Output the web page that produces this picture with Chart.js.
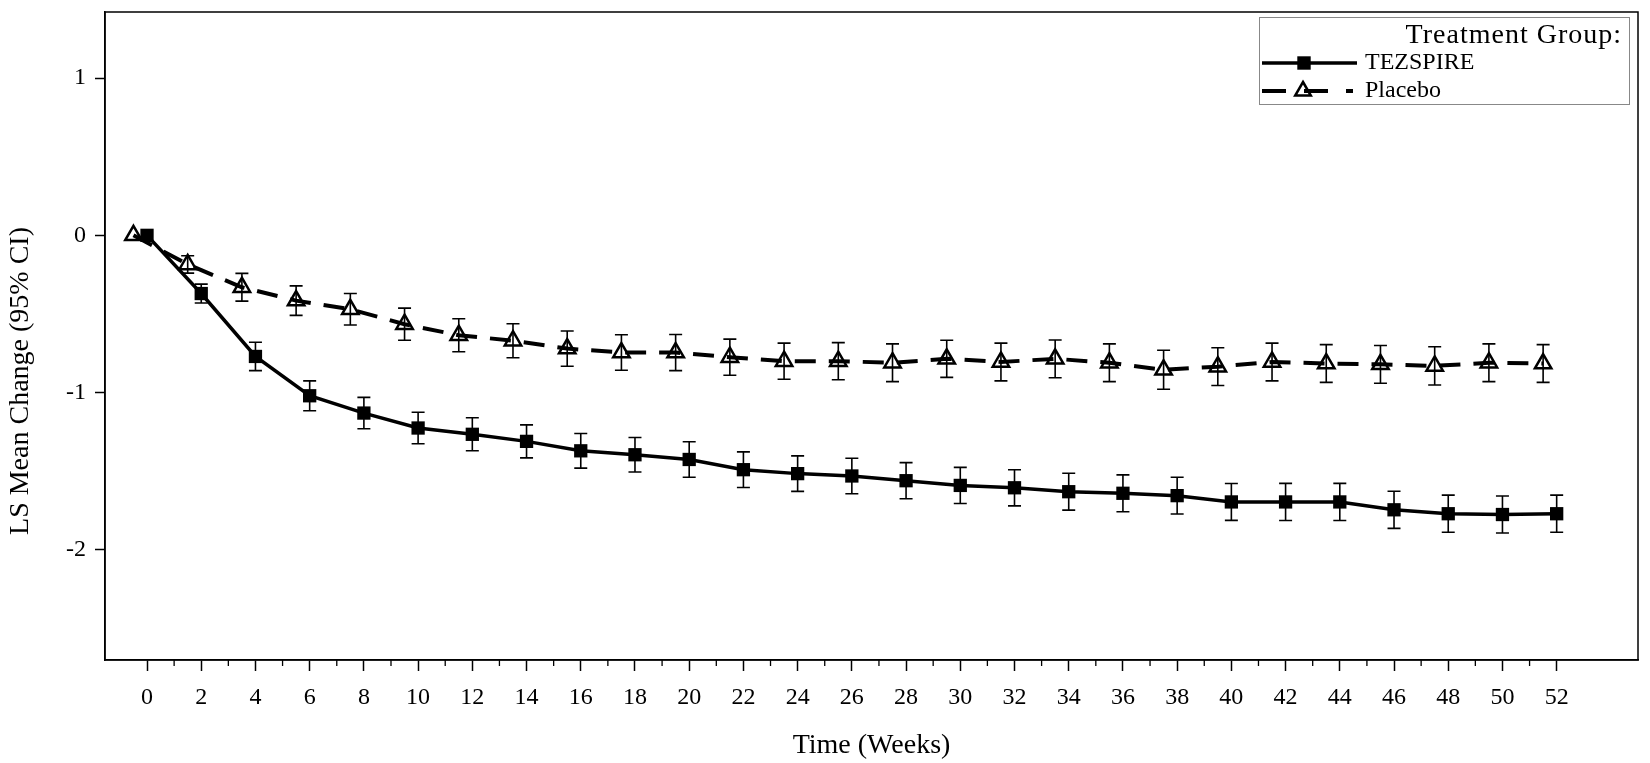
<!DOCTYPE html>
<html>
<head>
<meta charset="utf-8">
<script src="https://cdn.jsdelivr.net/npm/chart.js@4.4.0/dist/chart.umd.min.js"></script>
<style>
  html, body { margin: 0; padding: 0; background: #fff; }
  #wrap { width: 1650px; height: 763px; }
</style>
</head>
<body>
<div id="wrap"><canvas id="lsmean" width="1650" height="763"></canvas></div>
<script>
// visit weeks (both arms measured at the same weeks)
const weeks = [0, 2, 4, 6, 8, 10, 12, 14, 16, 18, 20, 22, 24, 26, 28, 30, 32, 34, 36, 38, 40, 42, 44, 46, 48, 50, 52];

// LS mean change and half width of the 95% CI
const tezMean = [0, -0.37, -0.77, -1.02, -1.13, -1.225, -1.265, -1.31, -1.37, -1.395, -1.425, -1.49, -1.515, -1.53,
                 -1.56, -1.59, -1.605, -1.63, -1.64, -1.655, -1.695, -1.695, -1.695, -1.745, -1.77, -1.775, -1.77];
const tezCI = [0, 0.06, 0.09, 0.095, 0.10, 0.10, 0.105, 0.105, 0.11, 0.11, 0.113, 0.113, 0.113, 0.113,
               0.115, 0.115, 0.115, 0.117, 0.117, 0.117, 0.117, 0.118, 0.118, 0.118, 0.118, 0.118, 0.118];
const pboMean = [0, -0.185, -0.33, -0.415, -0.47, -0.565, -0.635, -0.67, -0.72, -0.745, -0.745, -0.775, -0.80, -0.80,
                 -0.81, -0.785, -0.805, -0.785, -0.81, -0.855, -0.835, -0.805, -0.815, -0.82, -0.83, -0.81, -0.815];
const pboCI = [0, 0.055, 0.088, 0.094, 0.10, 0.102, 0.105, 0.108, 0.112, 0.113, 0.115, 0.115, 0.115, 0.118,
               0.12, 0.118, 0.12, 0.12, 0.12, 0.124, 0.12, 0.12, 0.12, 0.12, 0.122, 0.12, 0.12];

const xTicks = [0, 2, 4, 6, 8, 10, 12, 14, 16, 18, 20, 22, 24, 26, 28, 30, 32, 34, 36, 38, 40, 42, 44, 46, 48, 50, 52];
const xMinorTicks = [1, 3, 5, 7, 9, 11, 13, 15, 17, 19, 21, 23, 25, 27, 29, 31, 33, 35, 37, 39, 41, 43, 45, 47, 49, 51];
const yTicks = [1, 0, -1, -2];

const seriesNames = ['TEZSPIRE', 'Placebo'];
const legendTitle = 'Treatment Group:';
const xTitle = 'Time (Weeks)';
const yTitle = 'LS Mean Change (95% CI)';

const serif = '"Liberation Serif", "Times New Roman", serif';
const pboShift = -0.5;   // placebo is drawn half a week early so the bars don't collide

const errorBars = {
    id: 'errorBars',
    afterDatasetsDraw(chart) {
        const ctx = chart.ctx;
        const ys = chart.scales.y;
        chart.data.datasets.forEach((ds, d) => {
            const meta = chart.getDatasetMeta(d);
            ctx.save();
            ctx.strokeStyle = '#000';
            ctx.lineWidth = 1.6;
            meta.data.forEach((pt, i) => {
                const hw = ds.ci[i];
                if (!hw) return;
                const v = ds.data[i].y;
                const top = ys.getPixelForValue(v + hw);
                const bot = ys.getPixelForValue(v - hw);
                ctx.beginPath();
                ctx.moveTo(pt.x, top); ctx.lineTo(pt.x, bot);
                ctx.moveTo(pt.x - 6.5, top); ctx.lineTo(pt.x + 6.5, top);
                ctx.moveTo(pt.x - 6.5, bot); ctx.lineTo(pt.x + 6.5, bot);
                ctx.stroke();
            });
            ctx.restore();
        });
    }
};

const frameAndExtras = {
    id: 'frameAndExtras',
    afterDraw(chart) {
        const ctx = chart.ctx;
        const a = chart.chartArea;
        const xs = chart.scales.x;
        ctx.save();
        ctx.strokeStyle = '#000';
        ctx.lineWidth = 1.5;
        ctx.strokeRect(a.left, a.top, a.right - a.left, a.bottom - a.top);

        // minor ticks on odd weeks
        ctx.lineWidth = 1.3;
        ctx.beginPath();
        xMinorTicks.forEach(w => {
            const px = xs.getPixelForValue(w);
            ctx.moveTo(px, a.bottom);
            ctx.lineTo(px, a.bottom + 6);
        });
        ctx.stroke();

        // y axis title
        ctx.fillStyle = '#000';
        ctx.font = '28px ' + serif;
        ctx.textAlign = 'center';
        ctx.textBaseline = 'middle';
        ctx.translate(21, 381);
        ctx.rotate(-Math.PI / 2);
        ctx.fillText(yTitle, 0, 0);
        ctx.restore();

        // legend
        ctx.save();
        ctx.strokeStyle = '#888';
        ctx.lineWidth = 1;
        ctx.strokeRect(1259.5, 17.5, 370, 87);
        ctx.fillStyle = '#000';
        ctx.textBaseline = 'middle';
        ctx.textAlign = 'right';
        ctx.font = '28px ' + serif;
        ctx.letterSpacing = '1px';
        ctx.fillText(legendTitle, 1622, 36);
        ctx.letterSpacing = '0px';
        ctx.textAlign = 'left';
        ctx.font = '24px ' + serif;
        ctx.fillText(seriesNames[0], 1365, 63);
        ctx.fillText(seriesNames[1], 1365, 91);

        ctx.strokeStyle = '#000';
        ctx.lineWidth = 3.5;
        ctx.beginPath(); ctx.moveTo(1262, 63); ctx.lineTo(1357, 63); ctx.stroke();
        ctx.fillRect(1304 - 6.7, 63 - 6.7, 13.4, 13.4);

        ctx.lineWidth = 4;
        ctx.setLineDash([24, 18]);
        ctx.beginPath(); ctx.moveTo(1262, 91); ctx.lineTo(1353, 91); ctx.stroke();
        ctx.setLineDash([]);
        ctx.lineWidth = 2.5;
        ctx.beginPath();
        ctx.moveTo(1303, 91 - 9);
        ctx.lineTo(1303 + 7.8, 91 + 4.5);
        ctx.lineTo(1303 - 7.8, 91 + 4.5);
        ctx.closePath();
        ctx.stroke();
        ctx.restore();
    }
};

new Chart(document.getElementById('lsmean'), {
    type: 'line',
    data: {
        datasets: [{
            label: seriesNames[0],
            data: weeks.map((w, i) => ({ x: w, y: tezMean[i] })),
            ci: tezCI,
            borderColor: '#000',
            borderWidth: 3.5,
            pointStyle: 'rect',
            pointRadius: 9.4,
            pointBackgroundColor: '#000',
            pointBorderColor: '#000',
            pointBorderWidth: 0,
            tension: 0
        }, {
            label: seriesNames[1],
            data: weeks.map((w, i) => ({ x: w + pboShift, y: pboMean[i] })),
            ci: pboCI,
            borderColor: '#000',
            borderWidth: 4,
            borderDash: [21, 13],
            pointStyle: 'triangle',
            pointRadius: 9.5,
            pointBackgroundColor: 'rgba(0,0,0,0)',
            pointBorderColor: '#000',
            pointBorderWidth: 2.5,
            tension: 0
        }]
    },
    options: {
        responsive: false,
        devicePixelRatio: 1,
        animation: false,
        layout: { padding: { top: 6, right: 1, left: 0, bottom: 0 } },
        plugins: {
            legend: { display: false },
            tooltip: { enabled: false }
        },
        scales: {
            x: {
                type: 'linear',
                min: -1.55,
                max: 55.0,
                afterBuildTicks: axis => { axis.ticks = xTicks.map(v => ({ value: v })); },
                afterFit: scale => {
                    scale.height = 103;
                    scale.paddingLeft = 0;
                    scale.paddingRight = 0;
                },
                ticks: {
                    autoSkip: false,
                    maxRotation: 0,
                    padding: 12,
                    color: '#000',
                    font: { family: serif, size: 24 }
                },
                grid: { drawOnChartArea: false, color: '#000', tickLength: 11, tickWidth: 1.5 },
                border: { color: '#000', width: 1.5 },
                title: {
                    display: true,
                    text: xTitle,
                    color: '#000',
                    font: { family: serif, size: 28 },
                    padding: { top: 0, bottom: 1 }
                }
            },
            y: {
                min: -2.7,
                max: 1.42,
                afterBuildTicks: axis => { axis.ticks = yTicks.map(v => ({ value: v })); },
                afterFit: scale => {
                    scale.width = 105;
                    scale.paddingTop = 0;
                    scale.paddingBottom = 0;
                },
                ticks: {
                    padding: 9,
                    color: '#000',
                    font: { family: serif, size: 24 }
                },
                grid: { drawOnChartArea: false, color: '#000', tickLength: 10, tickWidth: 1.5 },
                border: { color: '#000', width: 1.5 }
            }
        }
    },
    plugins: [errorBars, frameAndExtras]
});
</script>
</body>
</html>
